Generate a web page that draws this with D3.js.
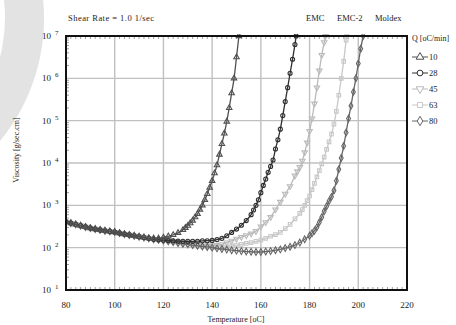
<!DOCTYPE html>
<html>
<head>
<meta charset="utf-8">
<script src="https://cdn.jsdelivr.net/npm/d3@7"></script>
<style>
  body { margin: 0; background: #fff; }
  svg { display: block; font-family: "Liberation Serif", "DejaVu Serif", serif; }
</style>
</head>
<body>
<svg id="chart" width="456" height="325"></svg>
<script>
// viscosity [g/sec.cm] vs temperature [oC], one list per heating rate Q
const q10 = [[80,407],[82,380],[84,355],[86,331],[88,309],[90,290],[92,275],[94,263],[96,251],[98,242],[100,234],[102,221],[104,209],[106,200],[108,191],[110,182],[112,174],[114,168],[116,166],[118,166],[120,174],[122,186],[124,200],[126,224],[128,263],[129,295],[130,331],[131,380],[132,437],[133,525],[134,631],[135,794],[136,1000],[137,1349],[138,1862],[139,2630],[140,3802],[141,5754],[142,8913],[143,15850],[144,28180],[145,50120],[146,95500],[147,199500],[148,446700],[149,1000000],[150,3162000],[151,10000000]];
const q28 = [[80,407],[82,380],[84,355],[86,331],[88,309],[90,290],[92,275],[94,263],[96,251],[98,242],[100,234],[102,221],[104,209],[106,200],[108,191],[110,182],[112,174],[114,166],[116,158],[118,154],[120,151],[122,148],[124,145],[126,143],[128,141],[130,141],[132,141],[134,142],[136,145],[138,146],[140,148],[142,155],[144,166],[146,191],[148,229],[150,275],[152,339],[154,437],[156,603],[157,776],[158,1000],[159,1349],[160,1995],[161,2951],[162,4169],[163,6026],[164,8318],[165,11750],[166,21380],[167,35480],[168,63100],[169,131800],[170,281800],[171,602600],[172,1318000],[173,2818000],[174,6310000],[174.5,10000000]];
const q45 = [[80,407],[82,380],[84,355],[86,331],[88,309],[90,290],[92,275],[94,263],[96,251],[98,242],[100,234],[102,221],[104,209],[106,200],[108,191],[110,182],[112,174],[114,166],[116,158],[118,153],[120,148],[122,141],[124,135],[126,129],[128,123],[130,120],[132,117],[134,114],[136,112],[138,112],[140,112],[142,115],[144,120],[146,132],[148,145],[150,162],[152,178],[154,195],[156,214],[158,245],[160,316],[162,398],[164,525],[166,794],[168,1202],[170,1862],[172,2818],[174,5012],[175,6310],[176,7943],[177,11220],[178,17780],[179,30200],[180,56230],[181,112200],[182,251200],[183,602600],[184,1514000],[185,3548000],[186,7079000],[186.6,10000000]];
const q63 = [[80,407],[82,380],[84,355],[86,331],[88,309],[90,290],[92,275],[94,263],[96,251],[98,242],[100,234],[102,221],[104,209],[106,200],[108,191],[110,182],[112,174],[114,166],[116,158],[118,153],[120,148],[122,141],[124,135],[126,129],[128,123],[130,120],[132,115],[134,110],[136,107],[138,104],[140,100],[142,100],[144,102],[146,105],[148,110],[150,115],[152,120],[154,126],[156,132],[158,141],[160,151],[162,166],[164,186],[166,204],[168,229],[170,282],[172,355],[174,479],[176,646],[177,794],[178,1000],[179,1288],[180,1660],[181,2344],[182,3311],[183,4677],[184,6607],[185,9550],[186,13800],[187,20890],[188,31620],[189,47860],[190,83180],[191,166000],[192,398100],[193,1000000],[194,2512000],[195,7943000],[195.2,10000000]];
const q80 = [[80,407],[82,380],[84,355],[86,331],[88,309],[90,290],[92,275],[94,263],[96,251],[98,242],[100,234],[102,221],[104,209],[106,200],[108,191],[110,182],[112,174],[114,166],[116,158],[118,153],[120,148],[122,141],[124,135],[126,129],[128,123],[130,120],[132,115],[134,110],[136,107],[138,104],[140,100],[142,96],[144,93],[146,90],[148,87],[150,85],[152,83],[154,81],[156,80],[158,79],[160,79],[162,81],[164,83],[166,87],[168,91],[170,98],[172,105],[174,115],[176,132],[178,158],[180,191],[181,219],[182,251],[183,302],[184,398],[185,525],[186,724],[187,955],[188,1259],[189,1585],[190,2239],[191,3802],[192,7079],[193,13180],[194,25120],[195,52480],[196,112200],[197,223900],[198,478600],[199,1000000],[200,2239000],[201,5012000],[202,10000000]];

const seriesNames = ["10", "28", "45", "63", "80"];
const seriesData = [q10, q28, q45, q63, q80];
const xTicks = [80, 100, 120, 140, 160, 180, 200, 220];
const yExponents = [1, 2, 3, 4, 5, 6, 7];

const colors = ["#505050", "#303030", "#bababa", "#c8c8c8", "#666666"];
const symbols = [d3.symbolTriangle, d3.symbolCircle, d3.symbolTriangle, d3.symbolSquare, d3.symbolDiamond];
const flips = [false, false, true, false, false];

const svg = d3.select("#chart");
const margin = {left: 66, right: 49, top: 36, bottom: 35};
const width = 456, height = 325;

const x = d3.scaleLinear().domain([80, 220]).range([margin.left, width - margin.right]);
const y = d3.scaleLog().domain([10, 1e7]).range([height - margin.bottom, margin.top]);

// light grey swoosh in the top-left corner
svg.append("path")
    .attr("transform", "translate(-150,18)")
    .attr("fill", "#e3e3e3")
    .attr("d", d3.arc().innerRadius(155).outerRadius(194).startAngle(0).endAngle(Math.PI));

// grid
svg.append("g")
    .attr("stroke", "#c0c0c0")
    .attr("stroke-width", 1.4)
  .selectAll("line")
  .data(xTicks.slice(1, -1))
  .join("line")
    .attr("x1", d => x(d)).attr("x2", d => x(d))
    .attr("y1", y(1e7)).attr("y2", y(10));

svg.append("g")
    .attr("stroke", "#c0c0c0")
    .attr("stroke-width", 1.4)
  .selectAll("line")
  .data(yExponents.slice(1, -1))
  .join("line")
    .attr("x1", x(80)).attr("x2", x(220))
    .attr("y1", d => y(Math.pow(10, d))).attr("y2", d => y(Math.pow(10, d)));

// minor ticks
const minorX = d3.range(82, 220, 2).filter(d => d % 20 !== 0);
const ticksG = svg.append("g").attr("stroke", "#888").attr("stroke-width", 0.8);
ticksG.selectAll("line.t")
  .data(minorX)
  .join("line")
    .attr("class", "t")
    .attr("x1", d => x(d)).attr("x2", d => x(d))
    .attr("y1", y(1e7)).attr("y2", y(1e7) + 3);
ticksG.selectAll("line.b")
  .data(minorX)
  .join("line")
    .attr("class", "b")
    .attr("x1", d => x(d)).attr("x2", d => x(d))
    .attr("y1", y(10)).attr("y2", y(10) - 3);
const minorY = [];
yExponents.slice(0, -1).forEach(e => d3.range(2, 10).forEach(m => minorY.push(m * Math.pow(10, e))));
ticksG.selectAll("line.l")
  .data(minorY)
  .join("line")
    .attr("class", "l")
    .attr("x1", x(80)).attr("x2", x(80) + 3)
    .attr("y1", d => y(d)).attr("y2", d => y(d));

// series
svg.append("clipPath").attr("id", "plotclip")
  .append("rect")
    .attr("x", x(80)).attr("y", y(1e7) - 2)
    .attr("width", x(220) - x(80)).attr("height", y(10) - y(1e7) + 2);

const line = d3.line()
    .x(d => x(d[0]))
    .y(d => y(d[1]))
    .curve(d3.curveMonotoneX);

const drawOrder = [3, 2, 4, 1, 0];
const plot = svg.append("g").attr("clip-path", "url(#plotclip)");
drawOrder.forEach(i => {
  const g = plot.append("g");
  g.append("path")
      .datum(seriesData[i])
      .attr("fill", "none")
      .attr("stroke", colors[i])
      .attr("stroke-width", 1.3)
      .attr("d", line);
  g.selectAll("path.m")
    .data(seriesData[i])
    .join("path")
      .attr("class", "m")
      .attr("transform", d => `translate(${x(d[0])},${y(d[1])})` + (flips[i] ? " rotate(180)" : ""))
      .attr("d", d3.symbol().type(symbols[i]).size(13))
      .attr("fill", "none")
      .attr("stroke", colors[i])
      .attr("stroke-width", 1.1);
});

// frame
svg.append("rect")
    .attr("x", x(80)).attr("y", y(1e7))
    .attr("width", x(220) - x(80)).attr("height", y(10) - y(1e7))
    .attr("fill", "none")
    .attr("stroke", "#111")
    .attr("stroke-width", 2);

// axis labels
svg.append("g")
    .attr("font-size", 9)
    .attr("fill", "#222")
    .attr("text-anchor", "middle")
  .selectAll("text")
  .data(xTicks)
  .join("text")
    .attr("x", d => x(d))
    .attr("y", 308)
    .text(d => d);

const yl = svg.append("g").attr("fill", "#222");
yl.selectAll("text.b")
  .data(yExponents)
  .join("text")
    .attr("class", "b")
    .attr("x", 51)
    .attr("y", d => y(Math.pow(10, d)) + 3)
    .attr("text-anchor", "end")
    .attr("font-size", 9)
    .text("10");
yl.selectAll("text.e")
  .data(yExponents)
  .join("text")
    .attr("class", "e")
    .attr("x", 55)
    .attr("y", d => y(Math.pow(10, d)) - 1)
    .attr("font-size", 7)
    .text(d => d);

svg.append("text")
    .attr("x", 236)
    .attr("y", 322)
    .attr("text-anchor", "middle")
    .attr("font-size", 8)
    .attr("fill", "#222")
    .text("Temperature [oC]");

svg.append("text")
    .attr("transform", "translate(19,150) rotate(-90)")
    .attr("text-anchor", "middle")
    .attr("font-size", 8)
    .attr("fill", "#222")
    .text("Viscosity [g/sec.cm]");

// header texts
svg.append("text")
    .attr("x", 68).attr("y", 21)
    .attr("font-size", 8.5).attr("fill", "#222")
    .attr("textLength", 86)
    .text("Shear Rate =  1.0 1/sec");
svg.append("g")
    .attr("font-size", 8.5).attr("fill", "#222")
  .selectAll("text")
  .data([["EMC", 306], ["EMC-2", 337], ["Moldex", 375]])
  .join("text")
    .attr("x", d => d[1]).attr("y", 21)
    .text(d => d[0]);

// legend
const legend = svg.append("g").attr("font-size", 8.5).attr("fill", "#222");
legend.append("text")
    .attr("x", 412).attr("y", 41)
    .attr("font-size", 8)
    .text("Q [oC/min]");
const items = legend.selectAll("g.item")
  .data(seriesNames)
  .join("g")
    .attr("transform", (d, i) => `translate(0,${57 + i * 16})`);
items.append("line")
    .attr("x1", 412).attr("x2", 428)
    .attr("stroke", (d, i) => colors[i])
    .attr("stroke-width", 1);
items.append("path")
    .attr("transform", (d, i) => "translate(420,0)" + (flips[i] ? " rotate(180)" : ""))
    .attr("d", (d, i) => d3.symbol().type(symbols[i]).size(26)())
    .attr("fill", "#fff")
    .attr("stroke", (d, i) => colors[i]);
items.append("text")
    .attr("x", 429).attr("y", 3)
    .text(d => d);
</script>
</body>
</html>
